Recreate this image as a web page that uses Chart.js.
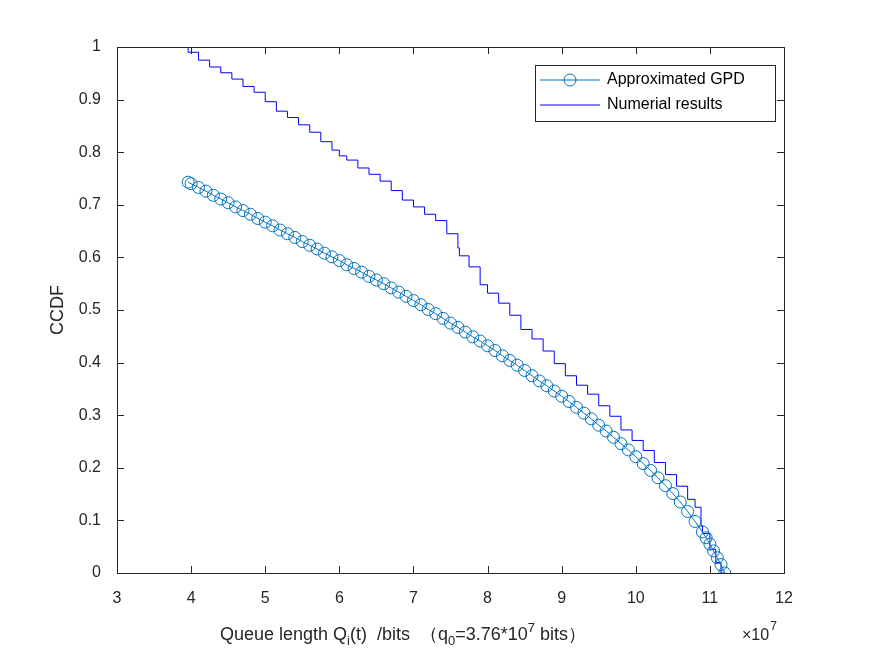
<!DOCTYPE html>
<html>
<head>
<meta charset="utf-8">
<script src="https://cdn.jsdelivr.net/npm/chart.js@4.4.0/dist/chart.umd.min.js"></script>
<style>
  html, body { margin: 0; padding: 0; background: #fff; }
  #wrap { width: 875px; height: 656px; }
</style>
</head>
<body>
<div id="wrap"><canvas id="myChart" width="875" height="656"></canvas></div>
<script>
// Approximated GPD curve (x in units of 1e7 bits)
const gpdX = [3.96, 4.0, 4.1, 4.2, 4.3, 4.4, 4.5, 4.6, 4.7, 4.8, 4.9, 5.0, 5.1, 5.2, 5.3, 5.4, 5.5,
  5.6, 5.7, 5.8, 5.9, 6.0, 6.1, 6.2, 6.3, 6.4, 6.5, 6.6, 6.7, 6.8, 6.9, 7.0, 7.1, 7.2, 7.3,
  7.4, 7.5, 7.6, 7.7, 7.8, 7.9, 8.0, 8.1, 8.2, 8.3, 8.4, 8.5, 8.6, 8.7, 8.8, 8.9, 9.0, 9.1,
  9.2, 9.3, 9.4, 9.5, 9.6, 9.7, 9.8, 9.9, 10.0, 10.1, 10.2, 10.3, 10.4, 10.5, 10.6, 10.7,
  10.8, 10.9, 10.95, 11.0, 11.05, 11.1, 11.15, 11.2];
const gpdY = [0.743, 0.740, 0.733, 0.726, 0.718, 0.711, 0.704, 0.696, 0.689, 0.682, 0.674, 0.667, 0.660, 0.652, 0.645, 0.638, 0.630,
  0.623, 0.616, 0.608, 0.601, 0.594, 0.586, 0.579, 0.572, 0.564, 0.557, 0.550, 0.542, 0.534, 0.526, 0.518, 0.510, 0.501, 0.493,
  0.484, 0.475, 0.467, 0.458, 0.449, 0.441, 0.432, 0.423, 0.413, 0.404, 0.395, 0.385, 0.375, 0.365, 0.356, 0.346, 0.336, 0.326,
  0.315, 0.304, 0.293, 0.281, 0.270, 0.258, 0.246, 0.234, 0.221, 0.208, 0.195, 0.181, 0.166, 0.151, 0.135, 0.117,
  0.098, 0.078, 0.067, 0.055, 0.042, 0.029, 0.016, 0.0];

// Numerical results (stepped)
const numX = [3.96, 4.1, 4.25, 4.4, 4.55, 4.7, 4.85, 5.0, 5.15, 5.3, 5.45, 5.6, 5.75, 5.9, 6.0,
  6.1, 6.25, 6.4, 6.55, 6.7, 6.85, 7.0, 7.15, 7.3, 7.45, 7.6, 7.62, 7.75, 7.9, 8.0, 8.15,
  8.3, 8.45, 8.6, 8.75, 8.9, 9.05, 9.2, 9.35, 9.5, 9.65, 9.8, 9.95, 10.1, 10.25, 10.4, 10.55,
  10.7, 10.8, 10.88, 10.9, 11.0, 11.08, 11.15, 11.2];
const numY = [1.0, 0.99, 0.975, 0.962, 0.951, 0.939, 0.925, 0.914, 0.896, 0.878, 0.866, 0.852, 0.838, 0.82, 0.804,
  0.793, 0.785, 0.77, 0.758, 0.745, 0.727, 0.709, 0.696, 0.682, 0.67, 0.645, 0.618, 0.603, 0.582, 0.548, 0.532,
  0.513, 0.49, 0.463, 0.445, 0.422, 0.398, 0.375, 0.357, 0.34, 0.318, 0.298, 0.272, 0.252, 0.233, 0.21, 0.187,
  0.165, 0.14, 0.125, 0.09, 0.075, 0.045, 0.02, 0.0];

const xTicks = [3, 4, 5, 6, 7, 8, 9, 10, 11, 12];
const yTicks = [0, 0.1, 0.2, 0.3, 0.4, 0.5, 0.6, 0.7, 0.8, 0.9, 1];

const FONT = 'Arial, "Liberation Sans", sans-serif';

const framePlugin = {
  id: 'frame',
  afterDraw(chart) {
    const { ctx, chartArea: a, scales: { x, y } } = chart;
    ctx.save();
    ctx.strokeStyle = '#262626';
    ctx.lineWidth = 1;
    ctx.strokeRect(a.left + 0.5, a.top + 0.5, a.right - a.left, a.bottom - a.top);
    ctx.beginPath();
    xTicks.forEach(v => {
      const px = Math.round(x.getPixelForValue(v)) + 0.5;
      ctx.moveTo(px, a.bottom); ctx.lineTo(px, a.bottom - 7);
      ctx.moveTo(px, a.top); ctx.lineTo(px, a.top + 7);
    });
    yTicks.forEach(v => {
      const py = Math.round(y.getPixelForValue(v)) + 0.5;
      ctx.moveTo(a.left, py); ctx.lineTo(a.left + 7, py);
      ctx.moveTo(a.right, py); ctx.lineTo(a.right - 7, py);
    });
    ctx.stroke();

    // x label with subscripts
    ctx.fillStyle = '#262626';
    ctx.textBaseline = 'alphabetic';
    ctx.textAlign = 'left';
    const parts = [
      ['Queue length Q', 18, 0], ['i', 13, 5], ['(t)  /bits  \uFF08q', 18, 0], ['0', 13, 5],
      ['=3.76*10', 18, 0], ['7', 13, -8], [' bits\uFF09', 18, 0]
    ];
    let cx = 220;
    parts.forEach(([t, s, dy]) => {
      ctx.font = s + 'px ' + FONT;
      ctx.fillText(t, cx, 640 + dy);
      cx += ctx.measureText(t).width;
    });
    ctx.font = '16px ' + FONT;
    ctx.fillText('\u00D710', 742, 640);
    const w = ctx.measureText('\u00D710').width;
    ctx.font = '12px ' + FONT;
    ctx.fillText('7', 742 + w + 1, 630);

    // y label
    ctx.save();
    ctx.translate(63, 310);
    ctx.rotate(-Math.PI / 2);
    ctx.textAlign = 'center';
    ctx.font = '18px ' + FONT;
    ctx.fillText('CCDF', 0, 0);
    ctx.restore();

    // legend
    ctx.fillStyle = '#fff';
    ctx.fillRect(535.5, 65.5, 240, 56);
    ctx.strokeStyle = '#262626';
    ctx.strokeRect(535.5, 65.5, 240, 56);
    ctx.strokeStyle = '#0072BD';
    ctx.beginPath(); ctx.moveTo(540, 80); ctx.lineTo(600, 80); ctx.stroke();
    ctx.beginPath(); ctx.arc(570, 80, 6, 0, Math.PI * 2); ctx.stroke();
    ctx.strokeStyle = '#0000FF';
    ctx.beginPath(); ctx.moveTo(540, 105); ctx.lineTo(600, 105); ctx.stroke();
    ctx.fillStyle = '#000';
    ctx.font = '16px ' + FONT;
    ctx.textBaseline = 'middle';
    ctx.fillText('Approximated GPD', 607, 80);
    ctx.fillText('Numerial results', 607, 105);
    ctx.restore();
  }
};

new Chart(document.getElementById('myChart'), {
  type: 'scatter',
  data: {
    datasets: [{
      label: 'Approximated GPD',
      data: gpdX.map((v, i) => ({ x: v, y: gpdY[i] })),
      showLine: true,
      borderColor: '#0072BD',
      borderWidth: 1,
      pointStyle: 'circle',
      pointRadius: 6,
      pointBorderColor: '#0072BD',
      pointBackgroundColor: 'rgba(0,0,0,0)',
      pointBorderWidth: 1
    }, {
      label: 'Numerial results',
      data: numX.map((v, i) => ({ x: v, y: numY[i] })),
      showLine: true,
      stepped: 'after',
      borderColor: '#0000FF',
      borderWidth: 1,
      pointRadius: 0
    }]
  },
  options: {
    responsive: false,
    animation: false,
    layout: { padding: { left: 0, right: 91, top: 47, bottom: 0 } },
    plugins: { legend: { display: false }, tooltip: { enabled: false } },
    scales: {
      x: {
        type: 'linear', min: 3, max: 12,
        afterBuildTicks: s => { s.ticks = xTicks.map(v => ({ value: v })); },
        grid: { display: false },
        border: { display: false },
        ticks: { color: '#262626', font: { size: 16, family: FONT }, padding: 8 },
        afterFit: s => { s.height = 83; }
      },
      y: {
        min: 0, max: 1,
        afterBuildTicks: s => { s.ticks = yTicks.map(v => ({ value: v })); },
        grid: { display: false },
        border: { display: false },
        ticks: { color: '#262626', font: { size: 16, family: FONT }, padding: 8, callback: v => String(+v.toFixed(1)) },
        afterFit: s => { s.width = 117; }
      }
    }
  },
  plugins: [framePlugin]
});
</script>
</body>
</html>
